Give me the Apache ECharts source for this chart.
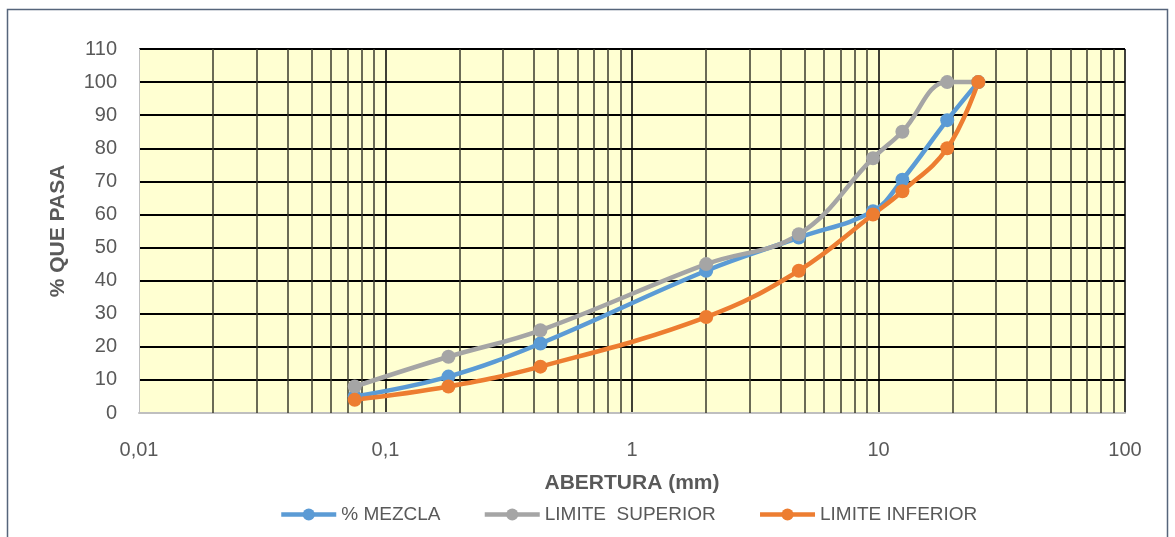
<!DOCTYPE html>
<html>
<head>
<meta charset="utf-8">
<style>
  html, body { margin: 0; padding: 0; background: #ffffff; }
  #chart { width: 1175px; height: 537px; }
</style>
<script src="https://cdn.jsdelivr.net/npm/echarts@6/dist/echarts.min.js"></script>
</head>
<body>
<div id="chart"></div>
<script>
// Sieve openings (mm) and percent passing for each curve
const sieveSizes = [0.075, 0.18, 0.425, 2, 4.75, 9.5, 12.5, 19, 25.4];
const mezcla = [5, 11, 21, 43, 53, 61, 70.5, 88.5, 100];
const limiteSuperior = [8, 17, 25, 45, 54, 77, 85, 100, 100];
const limiteInferior = [4, 8, 14, 29, 43, 60, 67, 80, 100];

const seriesNames = ['% MEZCLA', 'LIMITE  SUPERIOR', 'LIMITE INFERIOR'];
const seriesColors = ['#5B9BD5', '#A5A5A5', '#ED7D31'];

// Log-paper grid: intermediate lines 2..9 inside each decade
const decadeStarts = [0.01, 0.1, 1, 10];
const decadeSteps = [2, 3, 4, 5, 6, 7, 8, 9];

const pairs = (ys) => sieveSizes.map((x, i) => [x, ys[i]]);
const minorLines = [];
decadeStarts.forEach(d => decadeSteps.forEach(m => minorLines.push({ xAxis: +(d * m).toPrecision(6) })));

const fmt = (v) => String(+Number(v).toPrecision(6)).replace('.', ',');

const chart = echarts.init(document.getElementById('chart'), null, { renderer: 'canvas' });

const curve = (name, data, color) => ({
  name: name,
  type: 'line',
  data: data,
  smooth: 0.4,
  symbol: 'circle',
  symbolSize: 14,
  lineStyle: { color: color, width: 4.5 },
  itemStyle: { color: color },
  z: 5
});

chart.setOption({
  animation: false,
  backgroundColor: '#ffffff',
  textStyle: { fontFamily: 'Liberation Sans, Arial, sans-serif' },
  graphic: [{
    type: 'rect',
    shape: { x: 7.5, y: 9.5, width: 1160, height: 540 },
    style: { fill: 'none', stroke: '#56657b', lineWidth: 1.5 },
    silent: true
  }],
  grid: {
    left: 139, right: 50, top: 49, bottom: 124,
    show: true, backgroundColor: '#FFFFD2', borderWidth: 0
  },
  legend: {
    data: seriesNames,
    left: 274,
    top: 500,
    itemWidth: 55,
    itemHeight: 15,
    itemGap: 42,
    lineStyle: { width: 4.5 },
    textStyle: { fontSize: 19, color: '#595959', fontFamily: 'Liberation Sans, Arial, sans-serif' }
  },
  xAxis: {
    type: 'log',
    logBase: 10,
    min: 0.01,
    max: 100,
    name: 'ABERTURA (mm)',
    nameLocation: 'middle',
    nameGap: 60,
    nameTextStyle: { fontSize: 21, fontWeight: 'bold', color: '#595959' },
    axisLine: { show: true, onZero: false, lineStyle: { color: '#BFBFBF', width: 2 } },
    axisTick: { show: false },
    axisLabel: { fontSize: 20, color: '#595959', margin: 27, formatter: fmt },
    splitLine: { show: true, showMinLine: false, lineStyle: { color: '#000000', width: 1.5 } },
    minorTick: { show: false },
    minorSplitLine: { show: false }
  },
  yAxis: {
    type: 'value',
    min: 0,
    max: 110,
    interval: 10,
    name: '% QUE PASA',
    nameLocation: 'middle',
    nameGap: 70,
    nameTextStyle: { fontSize: 21, fontWeight: 'bold', color: '#595959' },
    axisLine: { show: true, lineStyle: { color: '#BFBFBF', width: 1 } },
    axisTick: { show: false },
    axisLabel: { fontSize: 20, color: '#595959', margin: 22 },
    splitLine: { show: true, showMinLine: false, lineStyle: { color: '#000000', width: 2 } }
  },
  series: [
    {
      name: 'grid',
      type: 'line',
      data: [],
      silent: true,
      z: 1,
      markLine: {
        silent: true,
        symbol: 'none',
        label: { show: false },
        lineStyle: { color: '#3a3a2c', width: 1.5, type: 'solid' },
        emphasis: { disabled: true },
        data: minorLines
      }
    },
    curve(seriesNames[0], pairs(mezcla), seriesColors[0]),
    curve(seriesNames[1], pairs(limiteSuperior), seriesColors[1]),
    curve(seriesNames[2], pairs(limiteInferior), seriesColors[2])
  ]
});
</script>
</body>
</html>
